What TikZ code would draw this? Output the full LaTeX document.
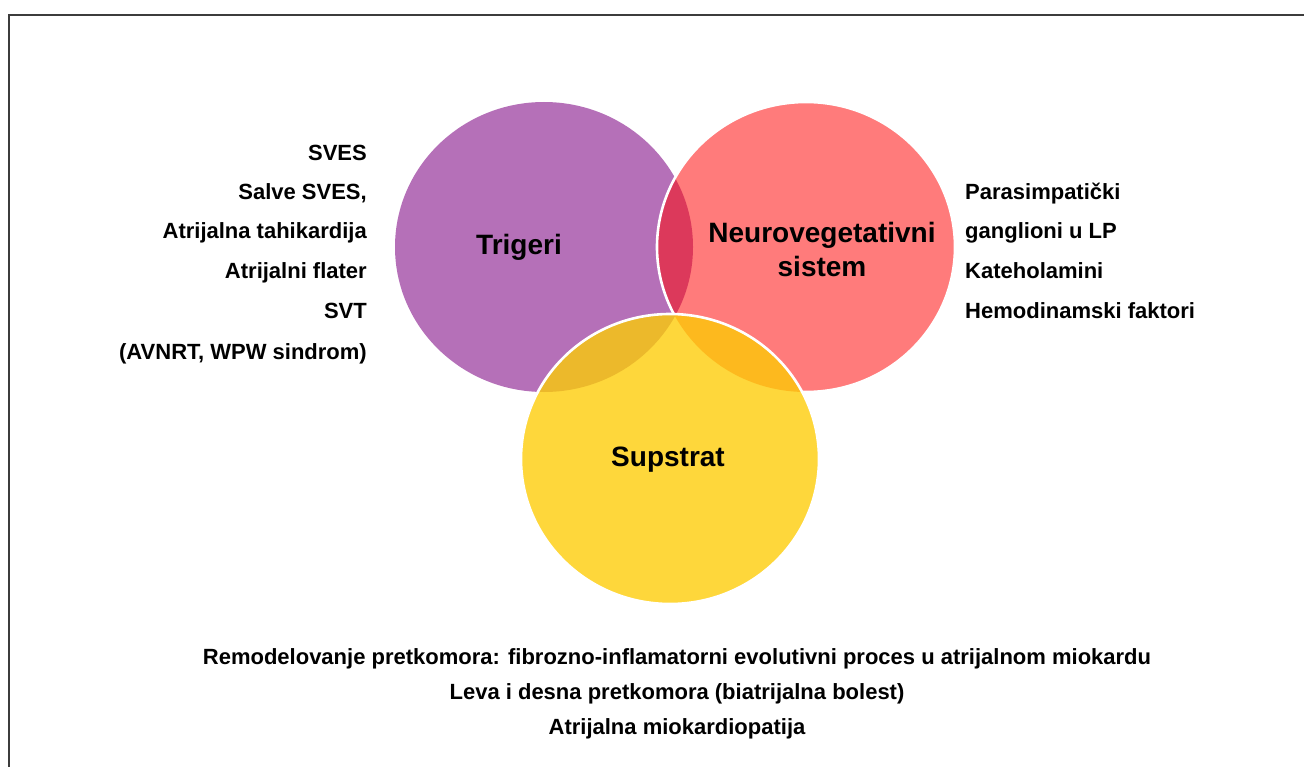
\documentclass[tikz,border=0pt]{standalone}
\usepackage{fontspec}
\setmainfont{Liberation Sans}

\definecolor{trigfill}{HTML}{B570B8}
\definecolor{neurofill}{HTML}{FF7B7B}
\definecolor{lensfill}{HTML}{DC395B}
\definecolor{supfill}{HTML}{FED73B}
\definecolor{suptrig}{HTML}{ECB92B}
\definecolor{supneuro}{HTML}{FDB91E}
\definecolor{framegray}{HTML}{3C3C3C}

\tikzset{
  setlabel/.style={font=\bfseries\fontsize{28}{34}\selectfont,align=center,inner sep=0pt},
  item/.style={font=\bfseries\fontsize{22}{24}\selectfont,text height=15.8pt,text depth=0pt,inner sep=0pt},
  oval/.style={x radius=149pt,y radius=145pt},
}

\begin{document}
\begin{tikzpicture}[x=1pt,y=-1pt]
\useasboundingbox (0,0) rectangle (1304,767);
\draw[framegray,line width=2.4pt] (9,767) -- (9,15) -- (1304,15);

% the three sets
\fill[trigfill] (544,247) ellipse[oval];
\fill[neurofill] (806,247) ellipse[oval];
\begin{scope}
  \clip (544,247) ellipse[oval];
  \fill[lensfill] (806,247) ellipse[oval];
\end{scope}
\draw[white,line width=2.6pt] (806,247) ellipse[oval];

\fill[supfill] (670,459) ellipse[oval];
\begin{scope}
  \clip (670,459) ellipse[oval];
  \fill[suptrig] (544,247) ellipse[oval];
  \fill[supneuro] (806,247) ellipse[oval];
\end{scope}
\draw[white,line width=2.6pt] (670,459) ellipse[oval];

\node[setlabel] (trig) at (519,247) {Trigeri};
\node[setlabel] (neuro) at (822,249) {Neurovegetativni\\sistem};
\node[setlabel] (supstr) at (668,460) {Supstrat};

% triggers
\node[item,anchor=east] (t1) at (367,153) {SVES};
\node[item,anchor=east] (t2) at (367,192) {Salve SVES,};
\node[item,anchor=east] (t3) at (367,231) {Atrijalna tahikardija};
\node[item,anchor=east] (t4) at (367,271) {Atrijalni flater};
\node[item,anchor=east] (t5) at (367,311) {SVT};
\node[item,anchor=east] (t6) at (367,352) {(AVNRT, WPW sindrom)};

% autonomic factors
\node[item,anchor=west] (n1) at (965,192) {Parasimpatički};
\node[item,anchor=west] (n2) at (965,231) {ganglioni u LP};
\node[item,anchor=west] (n3) at (965,271) {Kateholamini};
\node[item,anchor=west] (n4) at (965,311) {Hemodinamski faktori};

% substrate
\node[item] (s1) at (677,657) {Remodelovanje pretkomora: fibrozno-inflamatorni evolutivni proces u atrijalnom miokardu};
\node[item] (s2) at (677,692) {Leva i desna pretkomora (biatrijalna bolest)};
\node[item] (s3) at (677,727) {Atrijalna miokardiopatija};
\end{tikzpicture}
\end{document}
